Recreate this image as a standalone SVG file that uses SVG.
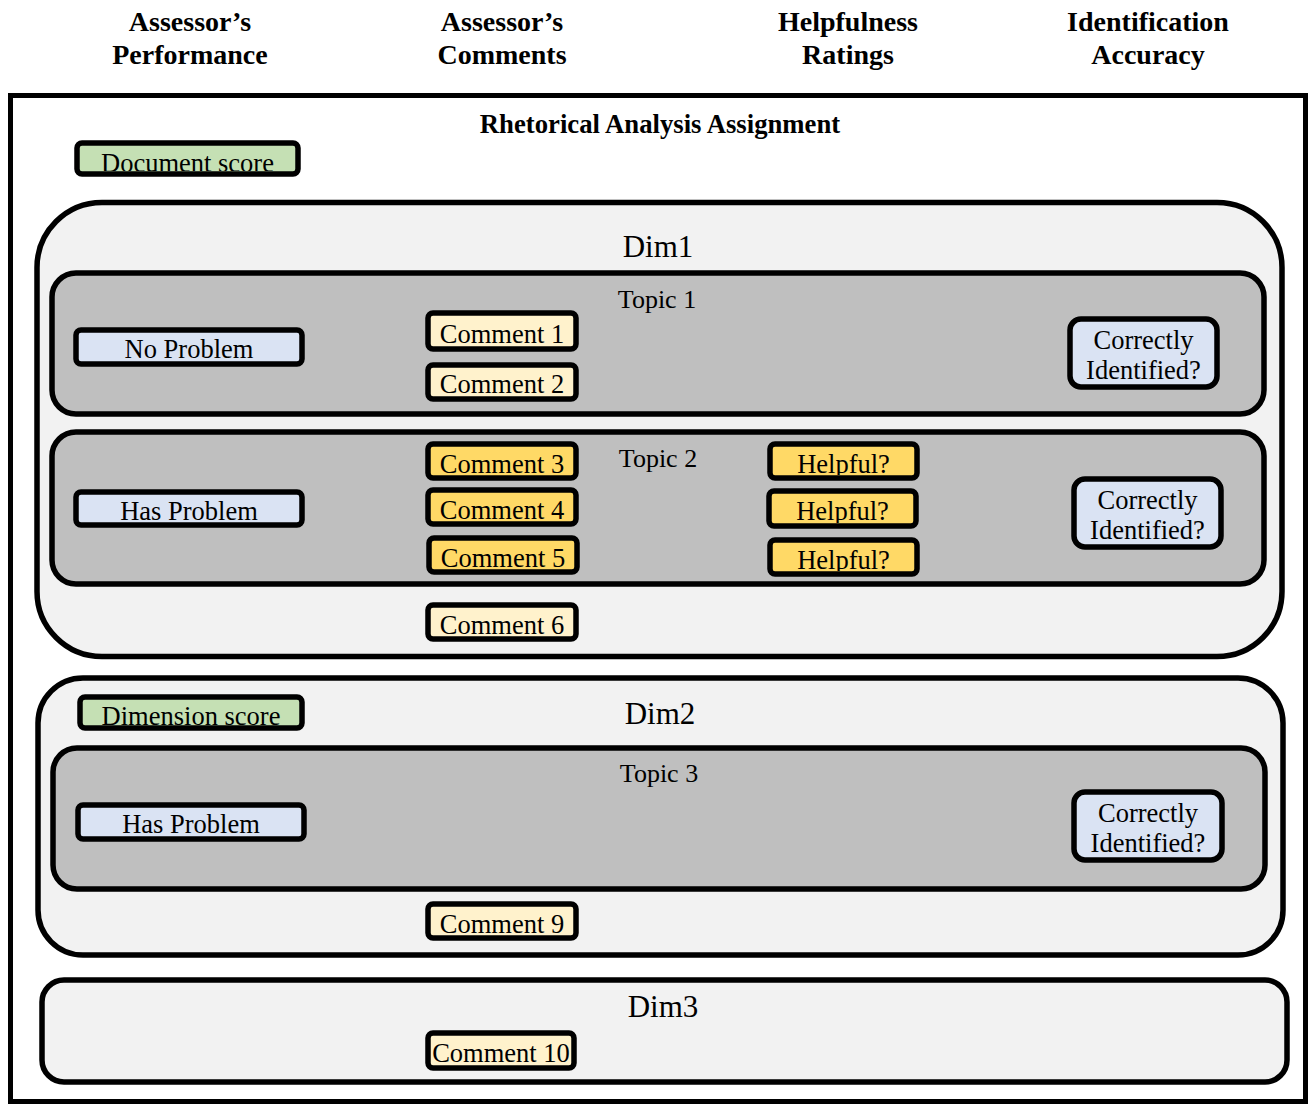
<svg xmlns="http://www.w3.org/2000/svg" width="1308" height="1104" viewBox="0 0 1308 1104">
<style>
text{font-family:"Liberation Serif","Times New Roman",serif;fill:#000;text-anchor:middle}
.hd{font-weight:bold;font-size:28px}
.ti{font-weight:bold;font-size:26.7px}
.dl{font-size:31px}
.tl{font-size:26px}
.t{font-size:26.5px}
.frame{fill:#fff;stroke:#000;stroke-width:5}
.dim{fill:#f2f2f2;stroke:#000;stroke-width:5.5}
.topic{fill:#bfbfbf;stroke:#000;stroke-width:5.5}
.box{stroke:#000;stroke-width:5.5}
.green{fill:#c5e0b4}
.blue{fill:#dae3f3}
.cream{fill:#fff2cc}
.gold{fill:#ffd966}
</style>
<rect width="1308" height="1104" fill="#fff"/>
<g id="headers">
<text class="hd" x="190" y="31">Assessor’s</text>
<text class="hd" x="190" y="64">Performance</text>
<text class="hd" x="502" y="31">Assessor’s</text>
<text class="hd" x="502" y="64">Comments</text>
<text class="hd" x="848" y="31">Helpfulness</text>
<text class="hd" x="848" y="64">Ratings</text>
<text class="hd" x="1148" y="31">Identification</text>
<text class="hd" x="1148" y="64">Accuracy</text>
</g>
<g id="assignment">
<rect class="frame" x="10.5" y="95.5" width="1295" height="1006"/>
<text class="ti" x="660" y="133">Rhetorical Analysis Assignment</text>
</g>
<g id="dim1">
<rect class="dim" x="37" y="202.5" width="1245" height="454" rx="65"/>
<text class="dl" x="658" y="257">Dim1</text>
</g>
<g id="topic1">
<rect class="topic" x="52" y="273" width="1212" height="141" rx="24"/>
<text class="tl" x="657" y="308">Topic 1</text>
</g>
<g id="topic2">
<rect class="topic" x="52" y="432" width="1212" height="152" rx="24"/>
<text class="tl" x="658" y="467">Topic 2</text>
</g>
<g id="dim2">
<rect class="dim" x="38" y="678" width="1245" height="277" rx="45"/>
<text class="dl" x="660" y="724">Dim2</text>
</g>
<g id="topic3">
<rect class="topic" x="53" y="748" width="1212" height="141" rx="24"/>
<text class="tl" x="659" y="782">Topic 3</text>
</g>
<g id="dim3">
<rect class="dim" x="42" y="980" width="1245" height="102" rx="22"/>
<text class="dl" x="663" y="1017">Dim3</text>
</g>

<g id="document-score">
<rect class="box green" x="77" y="143" width="221" height="31" rx="5"/>
<svg x="80" y="146" width="215" height="25" viewBox="80 146 215 25"><text class="t" x="187.5" y="172">Document score</text></svg>
</g>
<g id="no-problem-1">
<rect class="box blue" x="76" y="330" width="226" height="34" rx="5"/>
<svg x="79" y="333" width="220" height="28" viewBox="79 333 220 28"><text class="t" x="189" y="358">No Problem</text></svg>
</g>
<g id="comment-1">
<rect class="box cream" x="428" y="313" width="148" height="36" rx="5"/>
<svg x="431" y="316" width="142" height="30" viewBox="431 316 142 30"><text class="t" x="502" y="343">Comment 1</text></svg>
</g>
<g id="comment-2">
<rect class="box cream" x="428" y="365" width="148" height="34" rx="5"/>
<svg x="431" y="368" width="142" height="28" viewBox="431 368 142 28"><text class="t" x="502" y="393">Comment 2</text></svg>
</g>
<g id="correct-1">
<rect class="box blue" x="1070" y="319" width="147" height="68" rx="11"/>
<text class="t" x="1143.5" y="349">Correctly</text>
<text class="t" x="1143.5" y="379">Identified?</text>
</g>
<g id="comment-3">
<rect class="box gold" x="428" y="444" width="148" height="34" rx="5"/>
<svg x="431" y="447" width="142" height="28" viewBox="431 447 142 28"><text class="t" x="502" y="473">Comment 3</text></svg>
</g>
<g id="comment-4">
<rect class="box gold" x="428" y="490" width="148" height="34" rx="5"/>
<svg x="431" y="493" width="142" height="28" viewBox="431 493 142 28"><text class="t" x="502" y="519">Comment 4</text></svg>
</g>
<g id="comment-5">
<rect class="box gold" x="429" y="538" width="148" height="34" rx="5"/>
<svg x="432" y="541" width="142" height="28" viewBox="432 541 142 28"><text class="t" x="503" y="567">Comment 5</text></svg>
</g>
<g id="helpful-1">
<rect class="box gold" x="770" y="444" width="147" height="34" rx="5"/>
<svg x="773" y="447" width="141" height="28" viewBox="773 447 141 28"><text class="t" x="843.5" y="473">Helpful?</text></svg>
</g>
<g id="helpful-2">
<rect class="box gold" x="769" y="491" width="147" height="35" rx="5"/>
<svg x="772" y="494" width="141" height="29" viewBox="772 494 141 29"><text class="t" x="842.5" y="520">Helpful?</text></svg>
</g>
<g id="helpful-3">
<rect class="box gold" x="770" y="540" width="147" height="34" rx="5"/>
<svg x="773" y="543" width="141" height="28" viewBox="773 543 141 28"><text class="t" x="843.5" y="569">Helpful?</text></svg>
</g>
<g id="has-problem-2">
<rect class="box blue" x="76" y="492" width="226" height="33" rx="5"/>
<svg x="79" y="495" width="220" height="27" viewBox="79 495 220 27"><text class="t" x="189" y="520">Has Problem</text></svg>
</g>
<g id="correct-2">
<rect class="box blue" x="1074" y="479" width="147" height="68" rx="11"/>
<text class="t" x="1147.5" y="509">Correctly</text>
<text class="t" x="1147.5" y="539">Identified?</text>
</g>
<g id="comment-6">
<rect class="box cream" x="428" y="605" width="148" height="34" rx="5"/>
<svg x="431" y="608" width="142" height="28" viewBox="431 608 142 28"><text class="t" x="502" y="634">Comment 6</text></svg>
</g>
<g id="dimension-score">
<rect class="box green" x="80" y="697" width="222" height="31" rx="5"/>
<svg x="83" y="700" width="216" height="25" viewBox="83 700 216 25"><text class="t" x="191" y="725">Dimension score</text></svg>
</g>
<g id="has-problem-3">
<rect class="box blue" x="78" y="805" width="226" height="34" rx="5"/>
<svg x="81" y="808" width="220" height="28" viewBox="81 808 220 28"><text class="t" x="191" y="833">Has Problem</text></svg>
</g>
<g id="correct-3">
<rect class="box blue" x="1074" y="792" width="148" height="68" rx="11"/>
<text class="t" x="1148" y="822">Correctly</text>
<text class="t" x="1148" y="852">Identified?</text>
</g>
<g id="comment-9">
<rect class="box cream" x="428" y="904" width="148" height="34" rx="5"/>
<svg x="431" y="907" width="142" height="28" viewBox="431 907 142 28"><text class="t" x="502" y="933">Comment 9</text></svg>
</g>
<g id="comment-10">
<rect class="box cream" x="428" y="1033" width="146" height="35" rx="5"/>
<svg x="431" y="1036" width="140" height="29" viewBox="431 1036 140 29"><text class="t" x="501" y="1062">Comment 10</text></svg>
</g>
<g id="connectors"/>
</svg>
